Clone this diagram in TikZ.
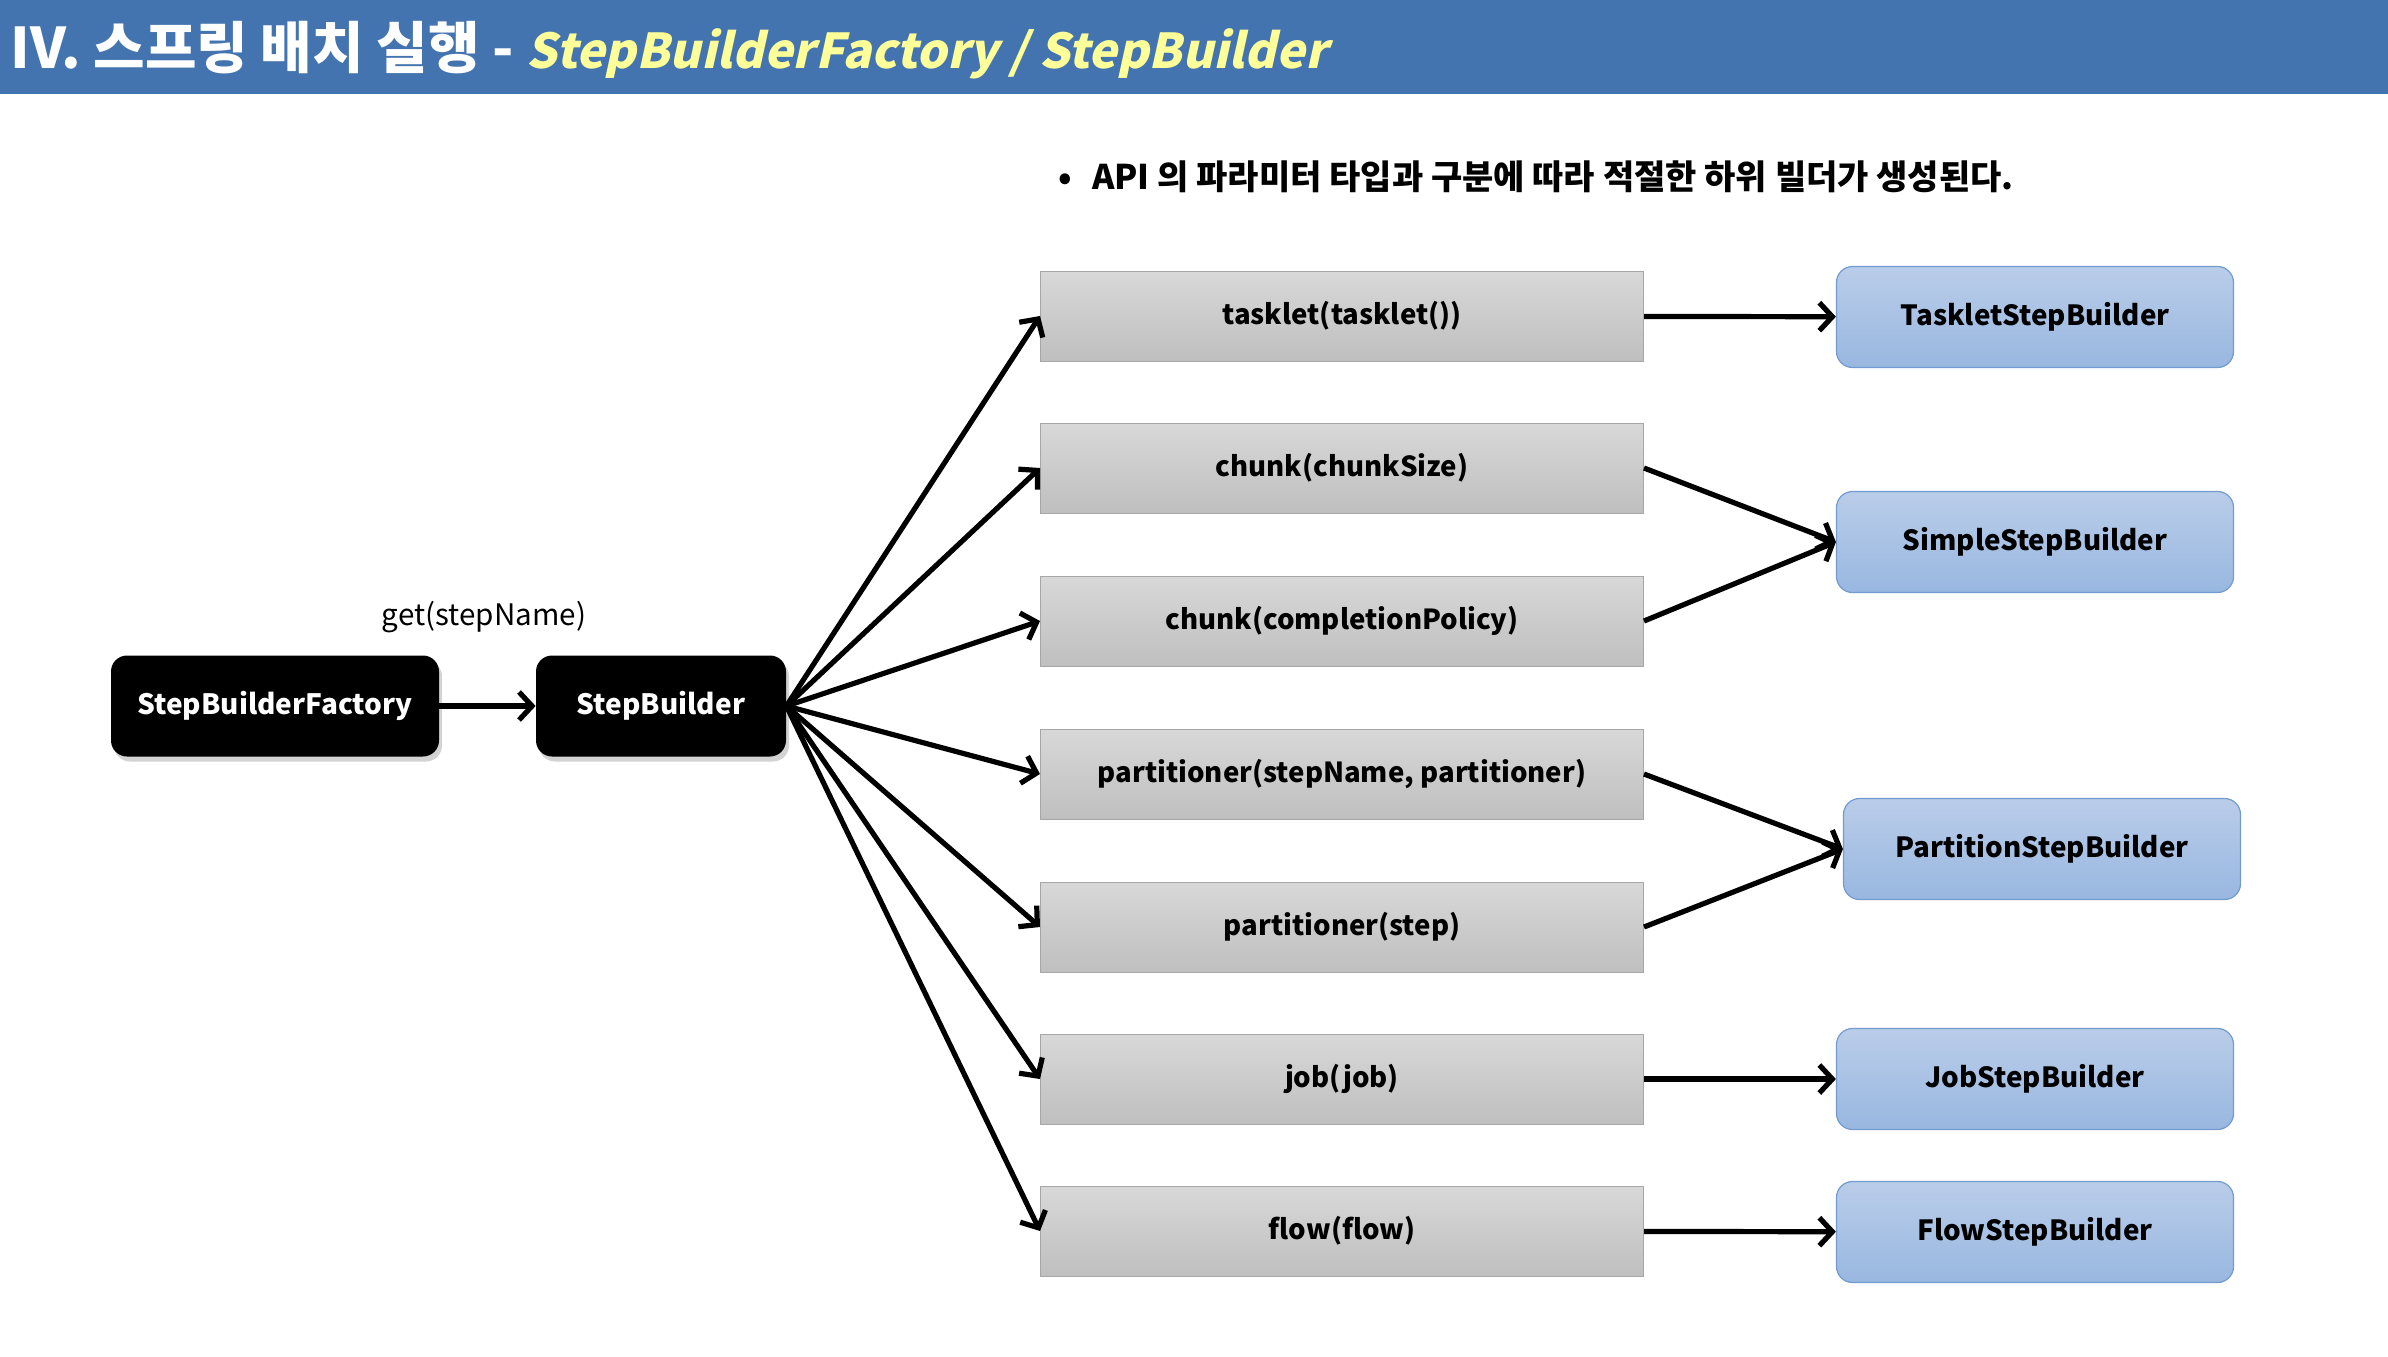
\documentclass[tikz,border=0pt]{standalone}
\usepackage{fontspec}
\setmainfont{Noto Sans CJK KR}
\newfontfamily\slantfont[FakeSlant=0.22]{Noto Sans CJK KR}
\usepackage{tikz}
\usetikzlibrary{arrows.meta,positioning,shadows}
\usepackage{xcolor}
\definecolor{headblue}{RGB}{67,116,176}
\definecolor{titleyellow}{RGB}{255,255,153}
\definecolor{greytop}{RGB}{216,216,216}
\definecolor{greybot}{RGB}{191,191,191}
\definecolor{greyline}{RGB}{166,166,166}
\definecolor{bluetop}{RGB}{186,205,233}
\definecolor{bluebot}{RGB}{152,183,224}
\definecolor{blueline}{RGB}{114,155,210}

\tikzset{
  blackbox/.style={fill=black, rounded corners=8pt, minimum height=50.5pt, text=white, font=\fontsize{14}{17}\selectfont\bfseries, drop shadow={shadow xshift=1.5pt, shadow yshift=-2.5pt, opacity=0.35}},
  callbox/.style={draw=greyline, line width=0.5pt, top color=greytop, bottom color=greybot, minimum width=301.5pt, minimum height=45pt, font=\fontsize{13.8}{17}\selectfont\bfseries},
  buildbox/.style={draw=blueline, line width=0.6pt, top color=bluetop, bottom color=bluebot, rounded corners=8pt, minimum width=198.5pt, minimum height=50.5pt, font=\fontsize{13.9}{17}\selectfont\bfseries},
  link/.style={line width=2.6pt, -{Straight Barb[length=6.5pt,width=14pt]}}
}

\begin{document}
\begin{tikzpicture}[x=0.5pt, y=-0.5pt]
\useasboundingbox (0,0) rectangle (2388,1356);
% header
\fill[headblue] (0,0) rectangle (2388,94);
\node[anchor=west, inner sep=0pt, text=white, font=\fontsize{28}{34}\selectfont\bfseries] (title) at (10,50)
  {IV. 스프링 배치 실행 - \textcolor{titleyellow}{\fontsize{24}{30}\selectfont\slantfont\bfseries StepBuilderFactory / StepBuilder}};
\node[anchor=west, inner sep=0pt, font=\fontsize{17}{20}\selectfont\bfseries] (note) at (1058,177)
  {•\hspace{10pt}API 의 파라미터 타입과 구분에 따라 적절한 하위 빌더가 생성된다.};

% factory and builder
\node[blackbox, minimum width=164pt] (sbf) at (275,706) {StepBuilderFactory};
\node[blackbox, minimum width=125pt] (sb) at (661,706) {StepBuilder};
\node[font=\fontsize{14.8}{17}\selectfont] (get) at (484,617) {get(stepName)};

% api calls
\node[callbox] (tasklet) at (1342,316) {tasklet(tasklet())};
\node[callbox] (chunkA) at (1342,468) {chunk(chunkSize)};
\node[callbox] (chunkB) at (1342,621) {chunk(completionPolicy)};
\node[callbox] (partA) at (1342,774) {partitioner(stepName, partitioner)};
\node[callbox] (partB) at (1342,927) {partitioner(step)};
\node[callbox] (job) at (1342,1079) {job(job)};
\node[callbox] (flow) at (1342,1231) {flow(flow)};

% sub builders
\node[buildbox] (tsb) at (2035,317) {TaskletStepBuilder};
\node[buildbox] (ssb) at (2035,542) {SimpleStepBuilder};
\node[buildbox] (psb) at (2042,849) {PartitionStepBuilder};
\node[buildbox] (jsb) at (2035,1079) {JobStepBuilder};
\node[buildbox] (fsb) at (2035,1232) {FlowStepBuilder};

% connectors
\draw[link] (sbf) -- (sb);
\draw[link] (sb.east) -- (tasklet.west);
\draw[link] (sb.east) -- (chunkA.west);
\draw[link] (sb.east) -- (chunkB.west);
\draw[link] (sb.east) -- (partA.west);
\draw[link] (sb.east) -- (partB.west);
\draw[link] (sb.east) -- (job.west);
\draw[link] (sb.east) -- (flow.west);
\draw[link] (tasklet) -- (tsb);
\draw[link] (chunkA.east) -- (ssb.west);
\draw[link] (chunkB.east) -- (ssb.west);
\draw[link] (partA.east) -- (psb.west);
\draw[link] (partB.east) -- (psb.west);
\draw[link] (job) -- (jsb);
\draw[link] (flow) -- (fsb);
\end{tikzpicture}
\end{document}
